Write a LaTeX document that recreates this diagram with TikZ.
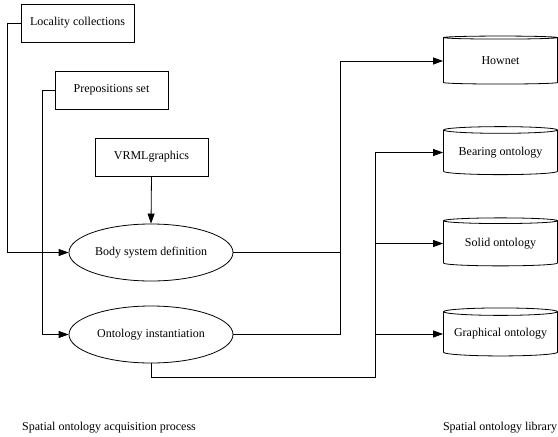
\documentclass[tikz,border=0pt]{standalone}
\usepackage{fontspec}
\setmainfont{Liberation Serif}
\usetikzlibrary{arrows.meta,shapes,positioning,calc}

\begin{document}
\begin{tikzpicture}[x=1pt, y=-1pt,
    every node/.style={font=\fontsize{12}{14}\selectfont},
    srcbox/.style={draw, thick, minimum width=113pt, minimum height=38pt, inner sep=0pt},
    procell/.style={draw, thick, ellipse, minimum width=164pt, minimum height=57pt, inner sep=0pt},
    libdb/.style={draw, thick, cylinder, shape border rotate=90, aspect=0.08,
        minimum width=114pt, minimum height=48pt, inner sep=0pt},
    link/.style={thick},
    arr/.style={thick, -{Triangle[length=10pt, width=7pt]}}]
    \useasboundingbox (0,0) rectangle (558,437);

    % Inputs of the acquisition process
    \node[srcbox] (loc) at (77.5,23) {Locality collections};
    \node[srcbox] (prep) at (111.5,90) {Prepositions set};
    \node[srcbox] (vrml) at (151.5,157) {VRMLgraphics};

    % Process steps
    \node[procell] (body) at (151,252.5) {Body system definition};
    \node[procell] (inst) at (151,334.5) {Ontology instantiation};

    % Ontology library
    \node[libdb] (hownet) at (500.5,61) {Hownet};
    \node[libdb] (bearing) at (500.5,152.5) {Bearing ontology};
    \node[libdb] (solid) at (500.5,243.5) {Solid ontology};
    \node[libdb] (graph) at (500.5,334) {Graphical ontology};

    \coordinate (hubA) at ([xshift=-103pt]hownet.west);
    \coordinate (hubB) at ([xshift=-68pt]bearing.west);

    % Inputs to process
    \draw[arr] (loc.west) -- ++(-13,0) |- (body.west);
    \draw[arr] (prep.west) -- ++(-12,0) |- (inst.west);
    \draw[arr] (vrml.south) -- (body.north);

    % Process to library
    \draw[link] (body.east) -- (body.east -| hubA);
    \draw[arr] (inst.east) -| (hubA) -- (hownet.west);
    \draw[arr] (inst.south) -- ++(0,14) -| (hubB) -- (bearing.west);
    \draw[arr] (solid.west -| hubB) -- (solid.west);
    \draw[arr] (graph.west -| hubB) -- (graph.west);

    % Captions
    \node (capl) at (109,428) {Spatial ontology acquisition process};
    \node (capr) at (500,428) {Spatial ontology library};
\end{tikzpicture}
\end{document}
